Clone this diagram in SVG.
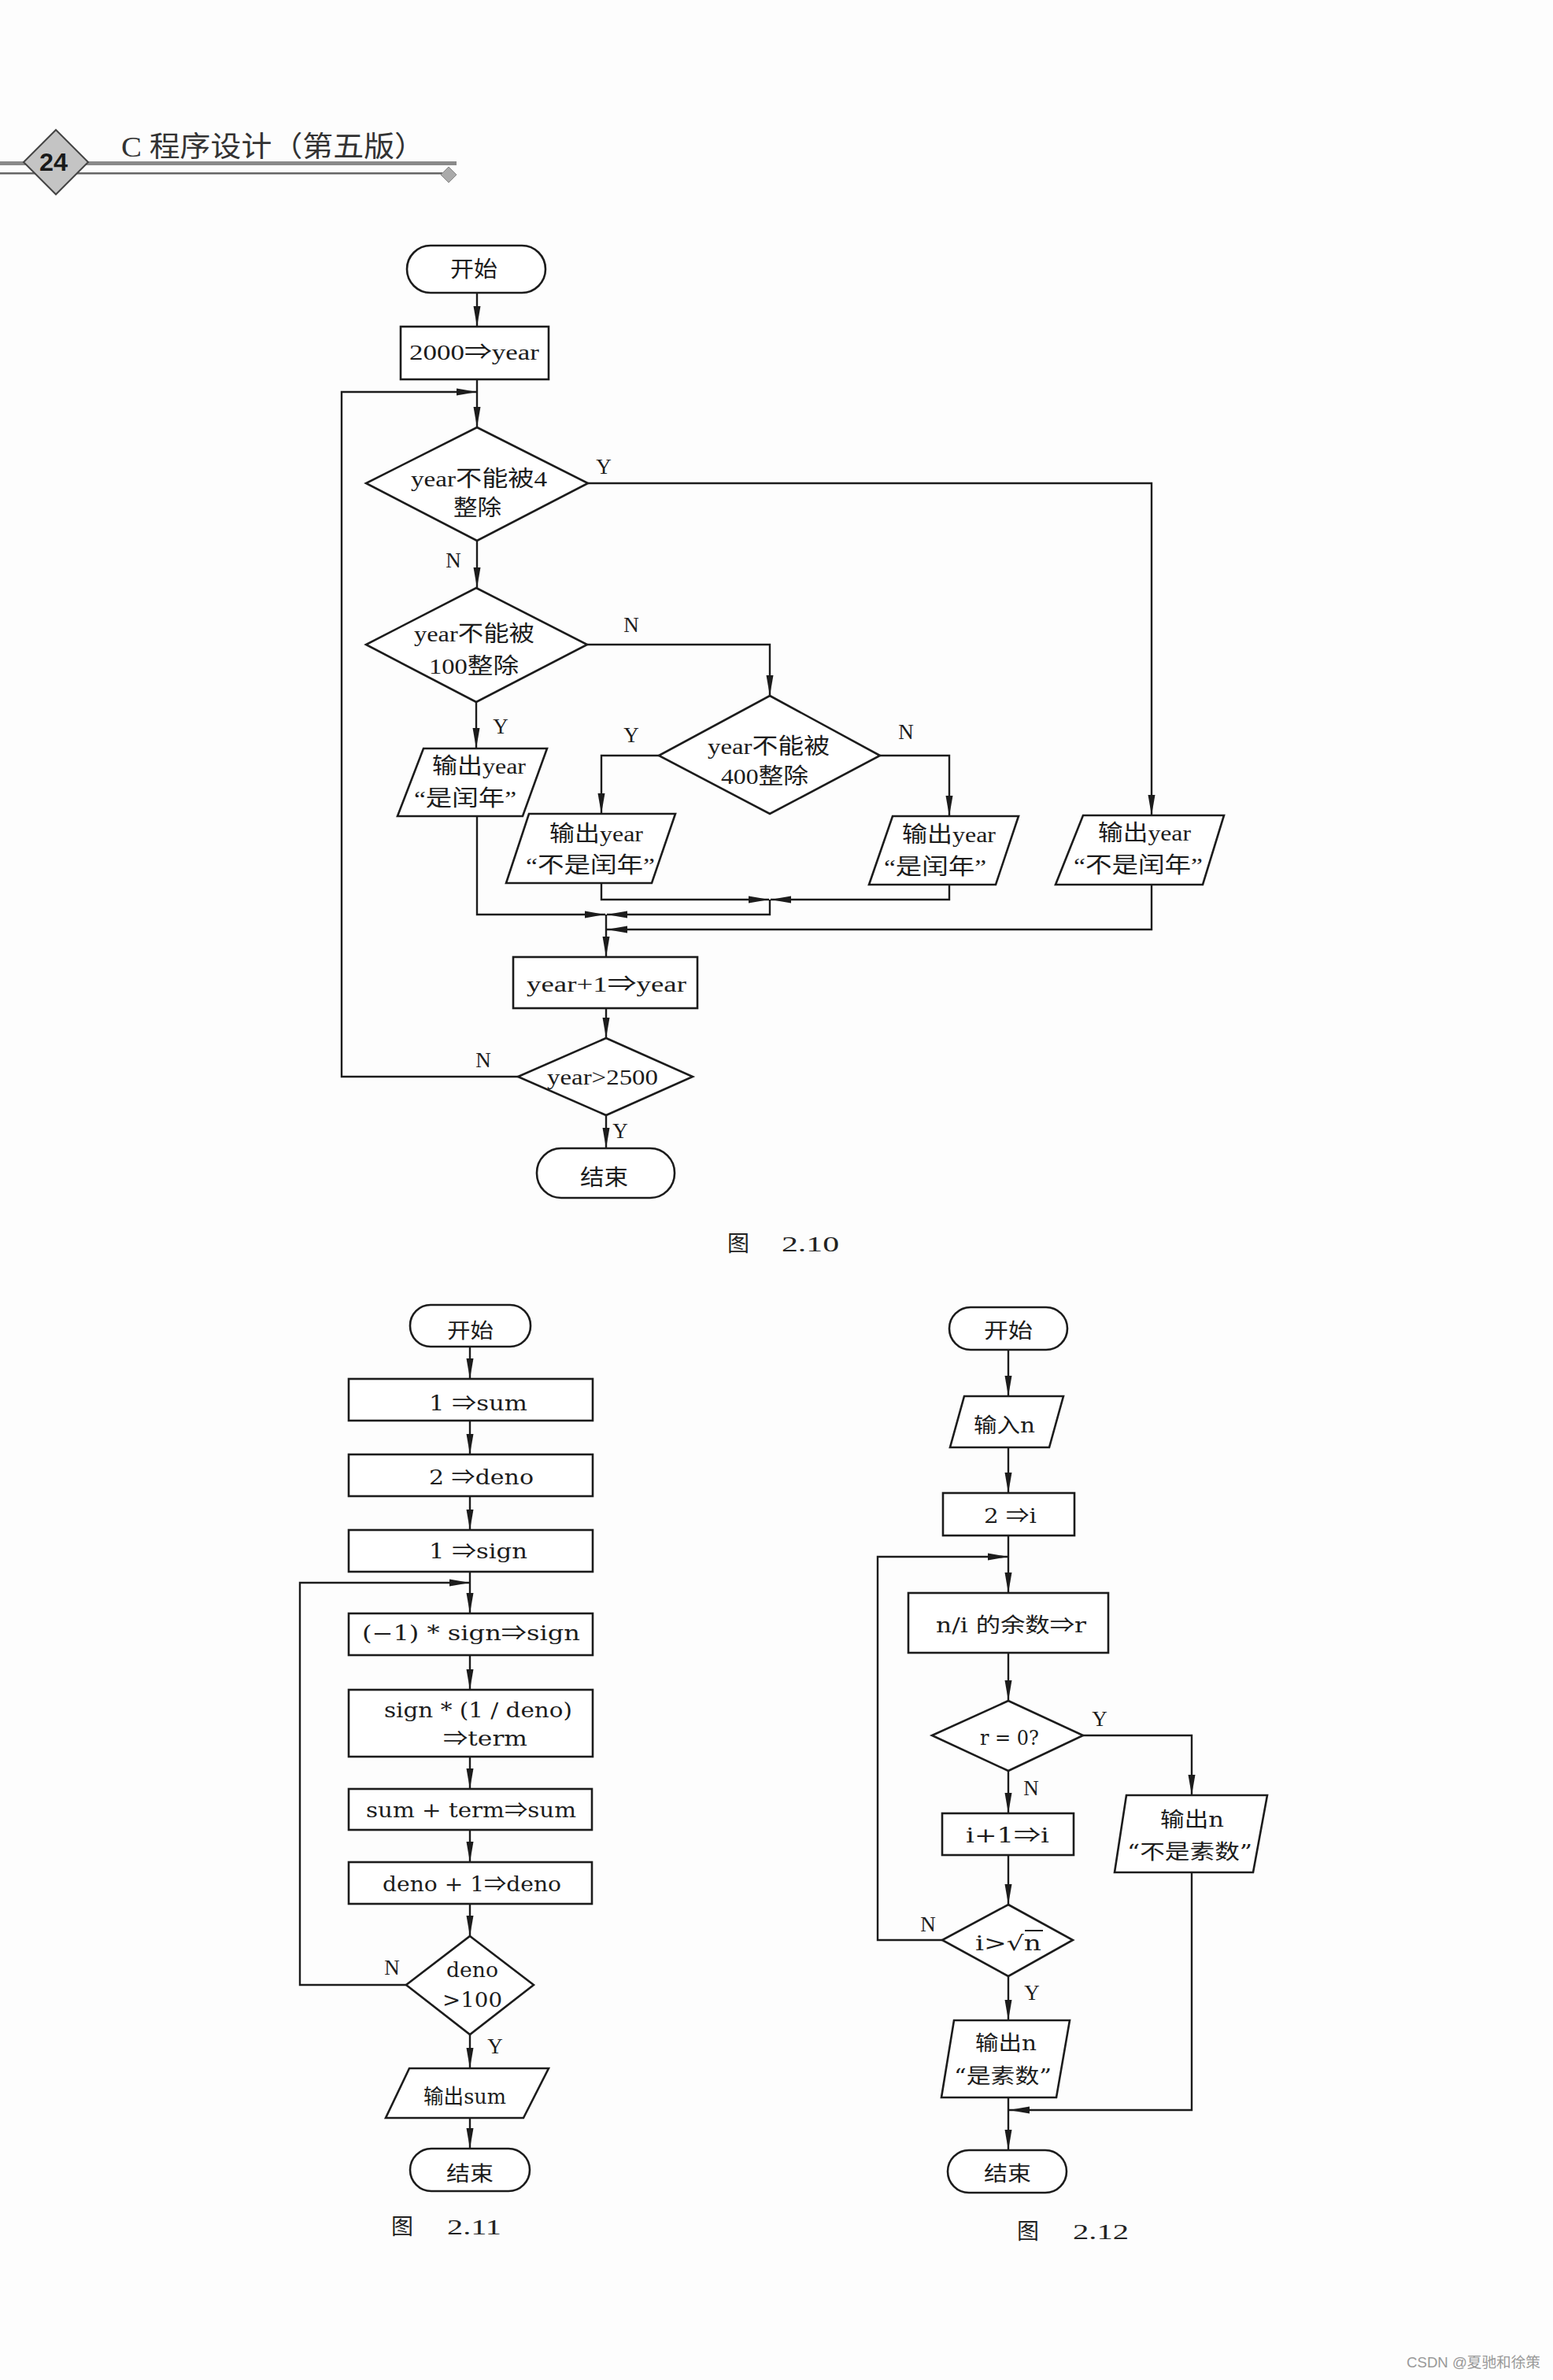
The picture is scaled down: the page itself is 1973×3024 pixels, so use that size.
<svg xmlns="http://www.w3.org/2000/svg" width="1973" height="3024" viewBox="0 0 1973 3024">
<defs>
<marker id="ah" markerUnits="userSpaceOnUse" markerWidth="28" markerHeight="10" refX="26" refY="5" orient="auto"><path d="M0,0.5 L26,5 L0,9.5 Z" fill="#1c1c1c"/></marker>
<style>
.s{fill:#fff;stroke:#1c1c1c;stroke-width:2.6}
.c{fill:none;stroke:#1c1c1c;stroke-width:2.4;marker-end:url(#ah)}
.t{font-family:"Liberation Serif","Noto Sans CJK SC",serif;font-size:28px;fill:#1c1c1c}
.u{font-family:"DejaVu Serif","Noto Sans CJK SC",serif;font-size:26px;fill:#1c1c1c}
.a{font-family:"Noto Sans CJK SC","DejaVu Sans",sans-serif}
.l{font-family:"Liberation Serif",serif;font-size:27px;fill:#1c1c1c;text-anchor:middle}
.cap{font-family:"Liberation Serif","Noto Sans CJK SC",serif;font-size:28px;fill:#222}
</style>
</defs>
<rect x="0" y="0" width="1973" height="3024" fill="#fdfdfd"/>

<g id="header">
<rect x="0" y="205" width="580" height="5" fill="#8a8a8a"/>
<rect x="0" y="219" width="563" height="2.5" fill="#666"/>
<polygon points="570,212 580,222 570,232 560,222" fill="#aaa" stroke="#888" stroke-width="1"/>
<polygon points="71,165 112,206 71,247 30,206" fill="#c4c4c4" stroke="#444" stroke-width="2"/>
<text x="50" y="217" font-family="Liberation Sans,sans-serif" font-weight="bold" font-size="32" textLength="36" lengthAdjust="spacingAndGlyphs" fill="#1a1a1a">24</text>
<text x="154" y="199" font-family="Liberation Serif,'Noto Sans CJK SC',serif" font-size="36" textLength="386" lengthAdjust="spacingAndGlyphs" fill="#333">C 程序设计（第五版）</text>
</g>

<g id="connectors">
<path class="c" d="M606,372 V415"/>
<path class="c" d="M606,482 V543"/>
<path class="c" d="M658,1368 H434 V498 H606"/>
<path class="c" d="M606,687 V747"/>
<path class="c" d="M747,614 H1463 V1036"/>
<path class="c" d="M605,892 V951"/>
<path class="c" d="M746,819 H978 V884"/>
<path class="c" d="M837,960 H764 V1034"/>
<path class="c" d="M1118,960 H1206 V1037"/>
<path class="c" d="M764,1122 V1143 H977"/>
<path class="c" d="M1206,1124 V1143 H979"/>
<path class="c" d="M978,1143 V1162 H771"/>
<path class="c" d="M606,1037 V1162 H769"/>
<path class="c" d="M1463,1124 V1181 H771"/>
<path class="c" d="M770,1162 V1216"/>
<path class="c" d="M770,1281 V1319"/>
<path class="c" d="M770,1417 V1459"/>
<path class="c" d="M597,1711 V1752"/>
<path class="c" d="M597,1805 V1848"/>
<path class="c" d="M597,1901 V1944"/>
<path class="c" d="M597,1997 V2050"/>
<path class="c" d="M516,2522 H381 V2011 H597"/>
<path class="c" d="M597,2103 V2147"/>
<path class="c" d="M597,2232 V2273"/>
<path class="c" d="M597,2325 V2366"/>
<path class="c" d="M597,2419 V2460"/>
<path class="c" d="M597,2585 V2628"/>
<path class="c" d="M597,2691 V2730"/>
<path class="c" d="M1281,1715 V1774"/>
<path class="c" d="M1281,1839 V1897"/>
<path class="c" d="M1281,1951 V2024"/>
<path class="c" d="M1197,2465 H1115 V1978 H1281"/>
<path class="c" d="M1281,2100 V2161"/>
<path class="c" d="M1376,2205 H1514 V2281"/>
<path class="c" d="M1281,2250 V2304"/>
<path class="c" d="M1281,2357 V2420"/>
<path class="c" d="M1281,2511 V2567"/>
<path class="c" d="M1281,2665 V2732"/>
<path class="c" d="M1514,2379 V2681 H1282"/>
</g>

<g id="labels">
<text class="l" x="767" y="602">Y</text>
<text class="l" x="576" y="721">N</text>
<text class="l" x="802" y="803">N</text>
<text class="l" x="636" y="932">Y</text>
<text class="l" x="802" y="943">Y</text>
<text class="l" x="1151" y="939">N</text>
<text class="l" x="614" y="1356">N</text>
<text class="l" x="788" y="1446">Y</text>
<text class="l" x="498" y="2509">N</text>
<text class="l" x="629" y="2609">Y</text>
<text class="l" x="1397" y="2193">Y</text>
<text class="l" x="1310" y="2281">N</text>
<text class="l" x="1179" y="2454">N</text>
<text class="l" x="1311" y="2541">Y</text>
</g>

<g id="f10-start"><rect class="s" x="517" y="312" width="176" height="60" rx="30"/><text class="t" x="572" y="352" textLength="60" lengthAdjust="spacingAndGlyphs">开始</text></g>
<g id="f10-init"><rect class="s" x="509" y="415" width="188" height="67"/><text class="t" x="520" y="457" font-size="29" textLength="165" lengthAdjust="spacingAndGlyphs">2000<tspan class="a">⇒</tspan>year</text></g>
<g id="f10-d1"><polygon class="s" points="606,543 747,614 606,687 465,614"/><text class="t" x="522" y="618" textLength="173" lengthAdjust="spacingAndGlyphs">year不能被4</text><text class="t" x="576" y="655" textLength="61" lengthAdjust="spacingAndGlyphs">整除</text></g>
<g id="f10-d2"><polygon class="s" points="605,747 746,819 605,892 465,819"/><text class="t" x="526" y="815" textLength="153" lengthAdjust="spacingAndGlyphs">year不能被</text><text class="t" x="545" y="856" textLength="114" lengthAdjust="spacingAndGlyphs">100整除</text></g>
<g id="f10-d3"><polygon class="s" points="978,884 1118,960 978,1034 837,960"/><text class="t" x="899" y="958" textLength="155" lengthAdjust="spacingAndGlyphs">year不能被</text><text class="t" x="916" y="996" textLength="111" lengthAdjust="spacingAndGlyphs">400整除</text></g>
<g id="f10-p1"><polygon class="s" points="538,951 695,951 664,1037 505,1037"/><text class="t" x="549" y="983" textLength="119" lengthAdjust="spacingAndGlyphs">输出year</text><text class="t" x="526" y="1024" textLength="130" lengthAdjust="spacingAndGlyphs">“是闰年”</text></g>
<g id="f10-p2"><polygon class="s" points="672,1034 858,1034 828,1122 643,1122"/><text class="t" x="698" y="1069" textLength="119" lengthAdjust="spacingAndGlyphs">输出year</text><text class="t" x="668" y="1109" textLength="164" lengthAdjust="spacingAndGlyphs">“不是闰年”</text></g>
<g id="f10-p3"><polygon class="s" points="1134,1037 1294,1037 1265,1124 1104,1124"/><text class="t" x="1146" y="1070" textLength="119" lengthAdjust="spacingAndGlyphs">输出year</text><text class="t" x="1123" y="1111" textLength="130" lengthAdjust="spacingAndGlyphs">“是闰年”</text></g>
<g id="f10-p4"><polygon class="s" points="1376,1036 1555,1036 1528,1124 1341,1124"/><text class="t" x="1395" y="1068" textLength="118" lengthAdjust="spacingAndGlyphs">输出year</text><text class="t" x="1364" y="1109" textLength="164" lengthAdjust="spacingAndGlyphs">“不是闰年”</text></g>
<g id="f10-inc"><rect class="s" x="652" y="1216" width="234" height="65"/><text class="t" x="669" y="1260" textLength="203" lengthAdjust="spacingAndGlyphs">year+1<tspan class="a">⇒</tspan>year</text></g>
<g id="f10-d4"><polygon class="s" points="770,1319 880,1368 770,1417 658,1368"/><text class="t" x="695" y="1378" textLength="141" lengthAdjust="spacingAndGlyphs">year&gt;2500</text></g>
<g id="f10-end"><rect class="s" x="682" y="1459" width="175" height="63" rx="31"/><text class="t" x="737" y="1506" textLength="61" lengthAdjust="spacingAndGlyphs">结束</text></g>
<g id="f10-cap"><text class="cap" x="924" y="1590">图</text><text class="cap" x="993" y="1590" textLength="73" lengthAdjust="spacingAndGlyphs">2.10</text></g>

<g id="f11-start"><rect class="s" x="521" y="1658" width="153" height="53" rx="26"/><text class="u" x="568" y="1700" textLength="59" lengthAdjust="spacingAndGlyphs">开始</text></g>
<g id="f11-b1"><rect class="s" x="443" y="1752" width="310" height="53"/><text class="u" x="545" y="1792" textLength="125" lengthAdjust="spacingAndGlyphs">1 <tspan class="a">⇒</tspan>sum</text></g>
<g id="f11-b2"><rect class="s" x="443" y="1848" width="310" height="53"/><text class="u" x="545" y="1886" textLength="133" lengthAdjust="spacingAndGlyphs">2 <tspan class="a">⇒</tspan>deno</text></g>
<g id="f11-b3"><rect class="s" x="443" y="1944" width="310" height="53"/><text class="u" x="545" y="1980" textLength="125" lengthAdjust="spacingAndGlyphs">1 <tspan class="a">⇒</tspan>sign</text></g>
<g id="f11-b4"><rect class="s" x="443" y="2050" width="310" height="53"/><text class="u" x="460" y="2084" textLength="277" lengthAdjust="spacingAndGlyphs">(−1) * sign<tspan class="a">⇒</tspan>sign</text></g>
<g id="f11-b5"><rect class="s" x="443" y="2147" width="310" height="85"/><text class="u" x="488" y="2182" textLength="239" lengthAdjust="spacingAndGlyphs">sign * (1 / deno)</text><text class="u" x="563" y="2218" textLength="107" lengthAdjust="spacingAndGlyphs"><tspan class="a">⇒</tspan>term</text></g>
<g id="f11-b6"><rect class="s" x="443" y="2273" width="309" height="52"/><text class="u" x="465" y="2309" textLength="267" lengthAdjust="spacingAndGlyphs">sum + term<tspan class="a">⇒</tspan>sum</text></g>
<g id="f11-b7"><rect class="s" x="443" y="2366" width="309" height="53"/><text class="u" x="486" y="2403" textLength="227" lengthAdjust="spacingAndGlyphs">deno + 1<tspan class="a">⇒</tspan>deno</text></g>
<g id="f11-d"><polygon class="s" points="597,2460 678,2522 597,2585 516,2522"/><text class="u" x="567" y="2512" textLength="66" lengthAdjust="spacingAndGlyphs">deno</text><text class="u" x="562" y="2550" textLength="76" lengthAdjust="spacingAndGlyphs">&gt;100</text></g>
<g id="f11-out"><polygon class="s" points="520,2628 697,2628 665,2691 490,2691"/><text class="u" x="538" y="2673" textLength="105" lengthAdjust="spacingAndGlyphs">输出sum</text></g>
<g id="f11-end"><rect class="s" x="521" y="2730" width="152" height="54" rx="27"/><text class="u" x="567" y="2771" textLength="60" lengthAdjust="spacingAndGlyphs">结束</text></g>
<g id="f11-cap"><text class="cap" x="497" y="2839">图</text><text class="cap" x="568" y="2839" textLength="69" lengthAdjust="spacingAndGlyphs">2.11</text></g>

<g id="f12-start"><rect class="s" x="1206" y="1661" width="150" height="54" rx="27"/><text class="u" x="1250" y="1700" textLength="62" lengthAdjust="spacingAndGlyphs">开始</text></g>
<g id="f12-in"><polygon class="s" points="1225,1774 1351,1774 1333,1839 1207,1839"/><text class="u" x="1237" y="1820" textLength="78" lengthAdjust="spacingAndGlyphs">输入n</text></g>
<g id="f12-b1"><rect class="s" x="1198" y="1897" width="167" height="54"/><text class="u" x="1250" y="1935" textLength="67" lengthAdjust="spacingAndGlyphs">2 <tspan class="a">⇒</tspan>i</text></g>
<g id="f12-b2"><rect class="s" x="1154" y="2024" width="254" height="76"/><text class="u" x="1189" y="2074" textLength="191" lengthAdjust="spacingAndGlyphs">n/i 的余数<tspan class="a">⇒</tspan>r</text></g>
<g id="f12-d1"><polygon class="s" points="1281,2161 1376,2205 1281,2250 1184,2205"/><text class="u" x="1245" y="2217" textLength="75" lengthAdjust="spacingAndGlyphs">r = 0?</text></g>
<g id="f12-p1"><polygon class="s" points="1431,2281 1610,2281 1592,2379 1416,2379"/><text class="u" x="1474" y="2321" textLength="81" lengthAdjust="spacingAndGlyphs">输出n</text><text class="u" x="1432" y="2362" textLength="159" lengthAdjust="spacingAndGlyphs">“不是素数”</text></g>
<g id="f12-b3"><rect class="s" x="1197" y="2304" width="167" height="53"/><text class="u" x="1227" y="2341" textLength="106" lengthAdjust="spacingAndGlyphs">i+1<tspan class="a">⇒</tspan>i</text></g>
<g id="f12-d2"><polygon class="s" points="1281,2420 1363,2465 1281,2511 1197,2465"/><text class="u" x="1239" y="2478" textLength="84" lengthAdjust="spacingAndGlyphs">i&gt;√n</text><line x1="1302" y1="2453" x2="1325" y2="2453" stroke="#1c1c1c" stroke-width="2"/></g>
<g id="f12-p2"><polygon class="s" points="1212,2567 1359,2567 1342,2665 1196,2665"/><text class="u" x="1239" y="2605" textLength="78" lengthAdjust="spacingAndGlyphs">输出n</text><text class="u" x="1212" y="2647" textLength="124" lengthAdjust="spacingAndGlyphs">“是素数”</text></g>
<g id="f12-end"><rect class="s" x="1204" y="2732" width="151" height="54" rx="27"/><text class="u" x="1250" y="2771" textLength="60" lengthAdjust="spacingAndGlyphs">结束</text></g>
<g id="f12-cap"><text class="cap" x="1292" y="2845">图</text><text class="cap" x="1363" y="2845" textLength="71" lengthAdjust="spacingAndGlyphs">2.12</text></g>

<g id="watermark"><text x="1787" y="3008" font-family="Liberation Sans,'Noto Sans CJK SC',sans-serif" font-size="18" fill="#999" textLength="170" lengthAdjust="spacingAndGlyphs">CSDN @夏驰和徐策</text></g>
</svg>
